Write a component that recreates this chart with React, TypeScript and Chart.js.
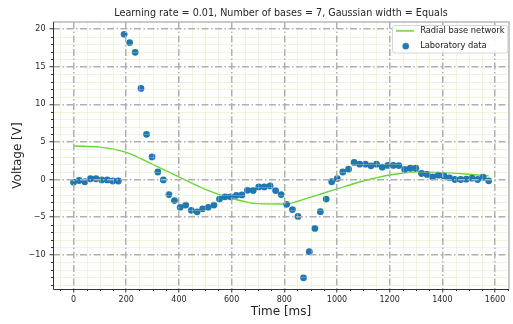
import React, { useEffect, useRef } from 'react';
import { Chart, registerables } from 'chart.js';

Chart.register(...registerables);

const TITLE = 'Learning rate = 0.01, Number of bases = 7, Gaussian width = Equals';
const X_LABEL = 'Time [ms]';
const Y_LABEL = 'Voltage [V]';
const NET_NAME = 'Radial base network';
const LAB_NAME = 'Laboratory data';

// Laboratory data (time in ms, voltage in V)
const labTimes = [
  0, 21, 43, 64, 85, 107, 128, 149, 170, 192,
  213, 234, 256, 277, 298, 320, 341, 362, 383, 405,
  426, 447, 469, 490, 511, 533, 554, 575, 596, 618,
  639, 660, 682, 703, 724, 746, 767, 788, 809, 831,
  852, 873, 895, 916, 937, 959, 980, 1001, 1022, 1044,
  1065, 1086, 1108, 1129, 1150, 1172, 1193, 1214, 1235, 1257,
  1278, 1299, 1321, 1342, 1363, 1385, 1406, 1427, 1448, 1470,
  1491, 1512, 1534, 1555, 1576,
];
const labVoltages = [
  -0.36, -0.13, -0.3, 0.1, 0.1, -0.05, -0.05, -0.2, -0.2, 19.3,
  18.2, 16.9, 12.1, 6.0, 3.0, 1.0, -0.05, -2.0, -2.8, -3.7,
  -3.4, -4.1, -4.3, -3.9, -3.7, -3.4, -2.6, -2.3, -2.3, -2.1,
  -2.05, -1.43, -1.45, -0.98, -0.98, -0.85, -1.47, -2.0, -3.3, -4.0,
  -4.9, -13.06, -9.6, -6.5, -4.27, -2.6, -0.3, 0.13, 1.0, 1.37,
  2.27, 2.04, 2.04, 1.82, 2.04, 1.64, 1.87, 1.87, 1.85, 1.33,
  1.5, 1.5, 0.8, 0.67, 0.35, 0.57, 0.48, 0.22, 0.0, 0.0,
  0.04, 0.18, 0.0, 0.3, -0.18,
];

// Radial base network output
const netTimes = [0, 100, 200, 300, 400, 500, 600, 700, 800, 900, 1000, 1100, 1200, 1300, 1400, 1500, 1576];
const netVoltages = [4.45, 4.3, 3.6, 2.0, 0.35, -1.3, -2.5, -3.2, -3.25, -2.35, -1.25, -0.2, 0.6, 1.0, 0.92, 0.7, 0.48];

// Axis ticks
const xTicks = [0, 200, 400, 600, 800, 1000, 1200, 1400, 1600];
const yTicks = [-10, -5, 0, 5, 10, 15, 20];
const xMinorStep = 50;
const yMinorStep = 1;
const xRange = [-78, 1653];
const yRange = [-14.55, 20.93];

const FONT = "'DejaVu Sans', 'Liberation Sans', sans-serif";
const BLUE = '#1f77b4';
const GREEN = 'rgb(102, 214, 52)';
const MAJOR_GRID = '#b0b0b0';
const MINOR_GRID = 'rgba(214, 224, 150, 0.33)';
const TEXT = '#262626';
const AXIS = '#333333';

function makeLineImage(): HTMLCanvasElement {
  const c = document.createElement('canvas');
  c.width = 22;
  c.height = 4;
  const g = c.getContext('2d')!;
  g.strokeStyle = GREEN;
  g.lineWidth = 1.5;
  g.beginPath();
  g.moveTo(0, 2);
  g.lineTo(18, 2);
  g.stroke();
  return c;
}

function makeDotImage(): HTMLCanvasElement {
  const c = document.createElement('canvas');
  c.width = 22;
  c.height = 8;
  const g = c.getContext('2d')!;
  g.fillStyle = BLUE;
  g.beginPath();
  g.arc(9.7, 4, 3.3, 0, Math.PI * 2);
  g.fill();
  return c;
}

function minorValues(min: number, max: number, step: number, majorStep: number): number[] {
  const out: number[] = [];
  const start = Math.ceil(min / step) * step;
  for (let v = start; v <= max + 1e-9; v += step) {
    if (Math.abs(v / majorStep - Math.round(v / majorStep)) > 1e-6) out.push(v);
  }
  return out;
}

const decorPlugin = {
  id: 'decor',
  afterLayout(chart: any) {
    const lg = chart.legend;
    const a = chart.chartArea;
    if (!lg) return;
    lg.left = a.right - 118;
    lg.top = a.top - 2.3;
    lg.width = 120;
    lg.height = 50;
    lg.right = lg.left + lg.width;
    lg.bottom = lg.top + lg.height;
  },
  afterDatasetsDraw(chart: any) {
    const { ctx, chartArea: a } = chart;
    const x = chart.scales.x;
    const y = chart.scales.y;
    ctx.save();
    ctx.strokeStyle = MINOR_GRID;
    ctx.lineWidth = 1;
    ctx.beginPath();
    for (const v of minorValues(xRange[0], xRange[1], xMinorStep, 200)) {
      const px = Math.round(x.getPixelForValue(v)) + 0.5;
      ctx.moveTo(px, a.top);
      ctx.lineTo(px, a.bottom);
    }
    for (const v of minorValues(yRange[0], yRange[1], yMinorStep, 5)) {
      const py = Math.round(y.getPixelForValue(v)) + 0.5;
      ctx.moveTo(a.left, py);
      ctx.lineTo(a.right, py);
    }
    ctx.stroke();
    ctx.restore();
  },
  afterDraw(chart: any) {
    const { ctx, chartArea: a } = chart;
    const x = chart.scales.x;
    const y = chart.scales.y;
    ctx.save();
    // minor ticks
    ctx.strokeStyle = AXIS;
    ctx.lineWidth = 1;
    ctx.beginPath();
    for (const v of minorValues(xRange[0], xRange[1], xMinorStep, 200)) {
      const px = Math.round(x.getPixelForValue(v)) + 0.5;
      ctx.moveTo(px, a.bottom);
      ctx.lineTo(px, a.bottom + 2);
    }
    for (const v of minorValues(yRange[0], yRange[1], yMinorStep, 5)) {
      const py = Math.round(y.getPixelForValue(v)) + 0.5;
      ctx.moveTo(a.left, py);
      ctx.lineTo(a.left - 2, py);
    }
    ctx.stroke();
    // top & right spines
    ctx.strokeStyle = '#b8b8b8';
    ctx.lineWidth = 1.5;
    ctx.beginPath();
    ctx.moveTo(a.left, a.top);
    ctx.lineTo(a.right, a.top);
    ctx.lineTo(a.right, a.bottom);
    ctx.stroke();
    // left & bottom spines
    ctx.strokeStyle = AXIS;
    ctx.lineWidth = 1;
    ctx.beginPath();
    ctx.moveTo(Math.round(a.left) + 0.5, a.top);
    ctx.lineTo(Math.round(a.left) + 0.5, Math.round(a.bottom) + 0.5);
    ctx.lineTo(a.right, Math.round(a.bottom) + 0.5);
    ctx.stroke();
    // legend frame
    const lg = chart.legend;
    if (lg) {
      ctx.font = `8.3px ${FONT}`;
      let w = 0;
      for (const t of [NET_NAME, LAB_NAME]) w = Math.max(w, ctx.measureText(t).width);
      const fx = lg.left + 1;
      const fy = a.top + 3;
      const fw = 31 + w;
      const fh = 27.5;
      ctx.fillStyle = 'rgba(255,255,255,0.9)';
      ctx.strokeStyle = '#d6d6d6';
      ctx.lineWidth = 1;
      ctx.beginPath();
      (ctx as any).roundRect(fx + 0.5, fy + 0.5, fw, fh, 2.5);
      ctx.fill();
      ctx.stroke();
      ctx.restore();
      lg.draw();
      return;
    }
    ctx.restore();
  },
};

export default function App() {
  const ref = useRef<HTMLCanvasElement | null>(null);

  useEffect(() => {
    if (!ref.current) return;
    const lineImg = makeLineImage();
    const dotImg = makeDotImage();

    const chart = new Chart(ref.current, {
      type: 'scatter',
      data: {
        datasets: [
          {
            type: 'line',
            label: NET_NAME,
            data: netTimes.map((t, i) => ({ x: t, y: netVoltages[i] })),
            borderColor: GREEN,
            borderWidth: 1.4,
            pointRadius: 0,
            fill: false,
            cubicInterpolationMode: 'monotone',
            order: 2,
          } as any,
          {
            type: 'scatter',
            label: LAB_NAME,
            data: labTimes.map((t, i) => ({ x: t, y: labVoltages[i] })),
            backgroundColor: BLUE,
            borderWidth: 0,
            pointRadius: 3.4,
            order: 1,
          } as any,
        ],
      },
      options: {
        responsive: false,
        animation: false,
        events: [],
        devicePixelRatio: 1,
        layout: { padding: { left: 0, right: 2, top: 0, bottom: 0 } },
        plugins: {
          tooltip: { enabled: false },
          title: {
            display: true,
            text: TITLE,
            fullSize: false,
            color: TEXT,
            font: { family: FONT, size: 9.6, weight: 'normal' },
            padding: { top: 7.5, bottom: 3 },
          },
          legend: {
            display: true,
            position: 'chartArea',
            align: 'start',
            labels: {
              usePointStyle: true,
              pointStyleWidth: 18,
              padding: 7,
              color: TEXT,
              font: { family: FONT, size: 8.3 },
              generateLabels: (c: any) =>
                c.data.datasets.map((ds: any, i: number) => ({
                  text: ds.label,
                  datasetIndex: i,
                  pointStyle: i === 0 ? lineImg : dotImg,
                  fillStyle: i === 0 ? GREEN : BLUE,
                  strokeStyle: i === 0 ? GREEN : BLUE,
                  lineWidth: 0,
                  hidden: false,
                  fontColor: TEXT,
                })),
            },
          } as any,
        },
        scales: {
          x: {
            type: 'linear',
            min: xRange[0],
            max: xRange[1],
            afterBuildTicks: (s: any) => {
              s.ticks = xTicks.map((v) => ({ value: v }));
            },
            afterFit: (s: any) => {
              s.height = 35;
            },
            ticks: {
              autoSkip: false,
              maxRotation: 0,
              padding: 3,
              color: TEXT,
              font: { family: FONT, size: 8 },
              callback: (v: any) => String(v),
            },
            grid: {
              color: MAJOR_GRID,
              lineWidth: 1.5,
              tickLength: 3.5,
              tickColor: AXIS,
              tickWidth: 1,
              z: 1,
            },
            border: { display: false, dash: [7, 2.5, 1.5, 2.5] },
            title: {
              display: true,
              text: X_LABEL,
              color: TEXT,
              font: { family: FONT, size: 12 },
              padding: { top: 0, bottom: 5.3 },
            },
          },
          y: {
            type: 'linear',
            min: yRange[0],
            max: yRange[1],
            afterBuildTicks: (s: any) => {
              s.ticks = yTicks.map((v) => ({ value: v }));
            },
            afterFit: (s: any) => {
              s.width = 53;
            },
            ticks: {
              autoSkip: false,
              padding: 4,
              color: TEXT,
              font: { family: FONT, size: 8 },
              callback: (v: any) => (v < 0 ? '\u2212' + Math.abs(v) : String(v)),
            },
            grid: {
              color: MAJOR_GRID,
              lineWidth: 1.5,
              tickLength: 3.5,
              tickColor: AXIS,
              tickWidth: 1,
              z: 1,
            },
            border: { display: false, dash: [7, 2.5, 1.5, 2.5] },
            title: {
              display: true,
              text: Y_LABEL,
              color: TEXT,
              font: { family: FONT, size: 12 },
              padding: { top: 11, bottom: 0 },
            },
          },
        },
      } as any,
      plugins: [decorPlugin as any],
    });
    return () => chart.destroy();
  }, []);

  return (
    <div style={{ position: 'fixed', left: 0, top: 0, width: 513, height: 324, background: '#fff' }}>
      <canvas ref={ref} width={513} height={324} style={{ display: 'block' }} />
    </div>
  );
}
